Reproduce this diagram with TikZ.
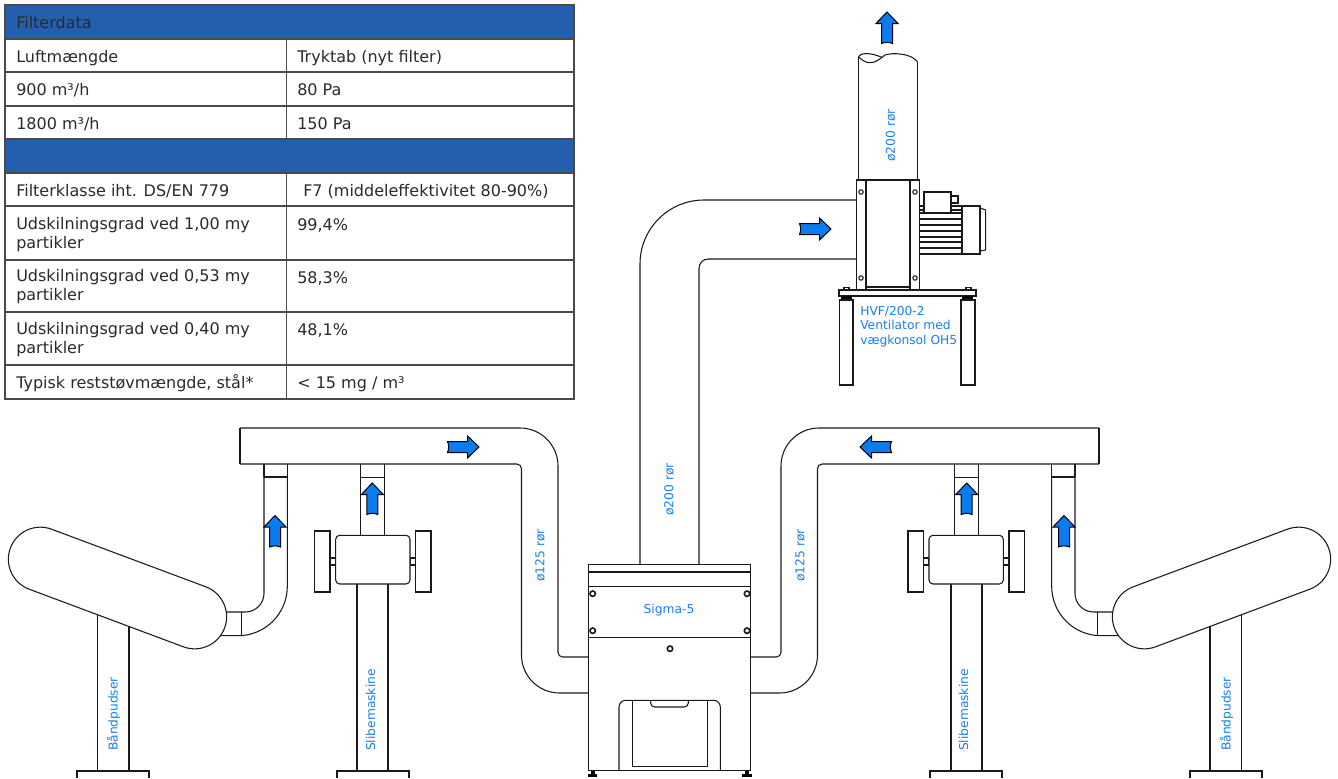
\documentclass[tikz,border=0pt]{standalone}
\usepackage{fontspec}
\setmainfont{DejaVu Sans}
\definecolor{tablehead}{HTML}{245FAE}
\definecolor{tabletext}{HTML}{2A2A2A}
\definecolor{labelblue}{HTML}{1A7FE8}
\definecolor{flowblue}{HTML}{0A7CF0}
\definecolor{linegrey}{HTML}{1A1A1A}
\tikzset{
    plan/.style={draw=linegrey,line width=0.8pt},
    planfill/.style={plan,fill=white},
    gridline/.style={draw=tabletext!85,line width=0.8pt},
    cell/.style={anchor=base west,inner sep=0pt,text=tabletext,font=\fontsize{12}{14.25}\selectfont},
    cellwrap/.style={anchor=west,align=left,inner sep=0pt,text=tabletext,font=\fontsize{12}{14.25}\selectfont},
    tag/.style={inner sep=0pt,text=labelblue,font=\fontsize{9.2}{11}\selectfont},
    uptag/.style={tag,rotate=90},
    knob/.style={draw=linegrey,line width=1.2pt,fill=white},
    flowarrow/.pic={
        \draw[line width=0.75pt,draw=black,fill=flowblue] (0,-16) -- (11,-4.5) -- (5.5,-4.5) -- (5.5,15.5)
            .. controls (2,14) and (-2,14) .. (-5.5,15.5) -- (-5.5,-4.5) -- (-11,-4.5) -- cycle;
    },
    %% one side: machines and 125 duct, the other side is this one mirrored
    sideworks/.pic={
        %% duct to filter
        \draw[plan] (240,464) -- (240,428);
        \draw[plan,rounded corners=28.5pt] (240,428) -- (558,428) [rounded corners=3.5pt] -- (558,657) -- (589,657);
        \draw[plan,rounded corners=3.5pt] (240,464) -- (521.5,464) [rounded corners=28.5pt] -- (521.5,693) -- (589,693);
        %% belt sander
        \draw[plan] (264,464) -- (264,477);
        \draw[plan] (287.3,464) -- (287.3,477);
        \draw[plan] (264,477) -- (287.3,477);
        \draw[plan,rounded corners=14pt] (264,477) -- (264,612) -- (220,612);
        \draw[plan,rounded corners=37pt] (287.3,477) -- (287.3,635.7) -- (215,635.7);
        \draw[plan] (241.7,612) -- (241.7,635.7);
        \draw[plan] (97.7,600) -- (97.7,771);
        \draw[plan] (129,610) -- (129,771);
        \draw[plan] (77,778) -- (77,771) -- (149,771) -- (149,778);
        \draw[planfill,rounded corners=24pt] (21.6,518) -- (235.8,598) -- (213.4,658) -- (-0.8,578) -- cycle;
        %% grinder
        \draw[plan] (360.7,464) -- (360.7,535.3);
        \draw[plan] (384.3,464) -- (384.3,535.3);
        \draw[plan] (360.7,477.3) -- (384.3,477.3);
        \draw[plan] (357,584) -- (357,771);
        \draw[plan] (388,584) -- (388,771);
        \draw[plan] (337,778) -- (337,771) -- (409,771) -- (409,778);
        \draw[plan] (330,558) rectangle (335.7,565);
        \draw[plan] (410,558) rectangle (415.7,565);
        \draw[plan] (314.3,531) rectangle (330,592);
        \draw[plan] (415.7,531) rectangle (431,592);
        \draw[planfill,rounded corners=3pt] (335.7,535.3) rectangle (410,584);
        %% arrows
        \pic at (275,531.5) {flowarrow};
        \pic at (372.3,499) {flowarrow};
    },
}
\begin{document}
\begin{tikzpicture}[x=0.75pt,y=-0.75pt]
    \useasboundingbox (0,0) rectangle (1338,778);
    %% table
    \fill[tablehead] (5,5) rectangle (574,39);
    \fill[tablehead] (5,139) rectangle (574,173);
    \draw[gridline] (5,5) rectangle (574,399);
    \draw[gridline] (5,39) -- (574,39);
    \draw[gridline] (5,72) -- (574,72);
    \draw[gridline] (5,106) -- (574,106);
    \draw[gridline] (5,139) -- (574,139);
    \draw[gridline] (5,173) -- (574,173);
    \draw[gridline] (5,206) -- (574,206);
    \draw[gridline] (5,260) -- (574,260);
    \draw[gridline] (5,312) -- (574,312);
    \draw[gridline] (5,365) -- (574,365);
    \draw[gridline] (286.5,39) -- (286.5,139);
    \draw[gridline] (286.5,173) -- (286.5,399);
    %% table text
    \node[cell] (filterdata) at (16,28) {Filterdata};
    \node[cell] (flowhead) at (16,62) {Luftmængde};
    \node[cell] (drophead) at (297,62) {Tryktab (nyt filter)};
    \node[cell] (flowlow) at (16,95) {900 m³/h};
    \node[cell] (droplow) at (297,95) {80 Pa};
    \node[cell] (flowhigh) at (16,129) {1800 m³/h};
    \node[cell] (drophigh) at (297,129) {150 Pa};
    \node[cell] (classhead) at (16,196) {Filterklasse iht. DS/EN 779};
    \node[cell] (classval) at (303,196) {F7 (middeleffektivitet 80-90\%)};
    \node[cellwrap] (sepa) at (16,234.5) {Udskilningsgrad ved 1,00 my\\partikler};
    \node[cell] (sepaval) at (297,230) {99,4\%};
    \node[cellwrap] (sepb) at (16,287) {Udskilningsgrad ved 0,53 my\\partikler};
    \node[cell] (sepbval) at (297,283) {58,3\%};
    \node[cellwrap] (sepc) at (16,339.5) {Udskilningsgrad ved 0,40 my\\partikler};
    \node[cell] (sepcval) at (297,335) {48,1\%};
    \node[cell] (dusthead) at (16,388) {Typisk reststøvmængde, stål*};
    \node[cell] (dustval) at (297,388) {< 15 mg / m³};
    %% both sides
    \pic at (0,0) {sideworks};
    \pic[xscale=-1] at (1339,0) {sideworks};
    \pic[rotate=-90] at (463,447) {flowarrow};
    \pic[rotate=90] at (876,447) {flowarrow};
    %% 200 duct to fan
    \draw[plan,rounded corners=48pt] (640,564.3) -- (640,200) -- (857,200);
    \draw[plan,rounded corners=7pt] (699,564.3) -- (699,259) -- (857,259);
    \pic[rotate=-90] at (815,229) {flowarrow};
    %% filter unit
    \draw[planfill] (588.3,564.3) rectangle (750.7,770.7);
    \draw[plan] (588.3,572) -- (750.7,572);
    \draw[plan] (588.3,586.7) -- (750.7,586.7);
    \draw[plan] (588.3,637.7) -- (750.7,637.7);
    \draw[plan,rounded corners=5pt] (619,770.7) -- (619,700.3) -- (720.3,700.3) -- (720.3,770.7);
    \draw[plan] (632.3,700.3) -- (632.3,766.7) -- (707.3,766.7) -- (707.3,700.3);
    \draw[plan,rounded corners=3pt] (650.7,700.3) -- (650.7,707) -- (688.3,707) -- (688.3,700.3);
    \fill[black] (591,771) rectangle (594.5,773.5);
    \fill[black] (587.7,773.5) rectangle (597.3,776.5);
    \fill[black] (745,771) rectangle (748.5,773.5);
    \fill[black] (742,773.5) rectangle (752,776.5);
    \draw[knob] (592.7,593.7) circle (2.7);
    \draw[knob] (747,593.7) circle (2.7);
    \draw[knob] (592.7,630.7) circle (2.7);
    \draw[knob] (747,630.7) circle (2.7);
    \draw[knob] (670,648.7) circle (2.7);
    %% fan tube
    \draw[plan] (858.3,56.7) -- (858.3,180);
    \draw[plan] (917.7,62.3) -- (917.7,180);
    \draw[plan] (858.3,56.7) .. controls (860,53) and (870,52) .. (881.7,57.3);
    \draw[plan] (858.3,56.7) .. controls (862,60) and (866,63) .. (870,62.7) .. controls (876,63) and (881,58) .. (885,55)
        .. controls (892,52.5) and (912,53) .. (917.7,62.3);
    \pic at (887,28) {flowarrow};
    %% fan housing
    \draw[plan] (856.5,180) rectangle (919.6,290);
    \draw[plan] (866,180) -- (866,290);
    \draw[plan] (910,180) -- (910,290);
    \draw[plan] (866,287) -- (910,287);
    \draw[plan] (861,192) circle (2.2);
    \draw[plan] (915,192) circle (2.2);
    \draw[plan] (861,278) circle (2.2);
    \draw[plan] (915,278) circle (2.2);
    %% motor
    \draw[plan] (924,192) rectangle (951,213);
    \draw[plan] (951,196) rectangle (958,203);
    \draw[plan] (920,206) -- (924,206);
    \draw[plan] (951,206) -- (962,206);
    \draw[plan] (920,210) -- (924,210);
    \draw[plan] (951,210) -- (962,210);
    \draw[plan] (962,206) rectangle (980,254);
    \draw[plan] (980,208) -- (985.7,210) -- (985.7,250) -- (980,251);
    \draw[plan] (920,254) -- (962,254);
    \draw[plan] (920,213) -- (962,213);
    \draw[plan] (920,219) -- (962,219);
    \draw[plan] (920,225) -- (962,225);
    \draw[plan] (920,231) -- (962,231);
    \draw[plan] (920,237) -- (962,237);
    \draw[plan] (920,242) -- (962,242);
    \draw[plan] (920,248) -- (962,248);
    %% bracket
    \draw[planfill] (839,290) rectangle (976,296);
    \draw[plan] (844,290) rectangle (849,287.5);
    \draw[plan] (966,290) rectangle (971,287.5);
    \fill[black] (841,296) rectangle (852,300);
    \fill[black] (962,296) rectangle (973,300);
    \draw[plan] (839.5,300) rectangle (853,385);
    \draw[plan] (961,300) rectangle (975,385);
    %% labels
    \node[uptag] (tubetag) at (890.5,135.5) {ø200 rør};
    \node[uptag] (risetag) at (669,489.5) {ø200 rør};
    \node[uptag] (lefttag) at (540,555.5) {ø125 rør};
    \node[uptag] (righttag) at (800,555.5) {ø125 rør};
    \node[uptag] (beltleft) at (113.5,714) {Båndpudser};
    \node[uptag] (beltright) at (1226.5,714) {Båndpudser};
    \node[uptag] (grindleft) at (370.5,710) {Slibemaskine};
    \node[uptag] (grindright) at (963.5,710) {Slibemaskine};
    \node[tag] (unittag) at (669,610) {Sigma-5};
    \node[tag,anchor=base west] (fanname) at (860,315) {HVF/200-2};
    \node[tag,anchor=base west] (fantype) at (860,329.5) {Ventilator med};
    \node[tag,anchor=base west] (fanmount) at (860,344) {vægkonsol OH5};
\end{tikzpicture}
\end{document}
